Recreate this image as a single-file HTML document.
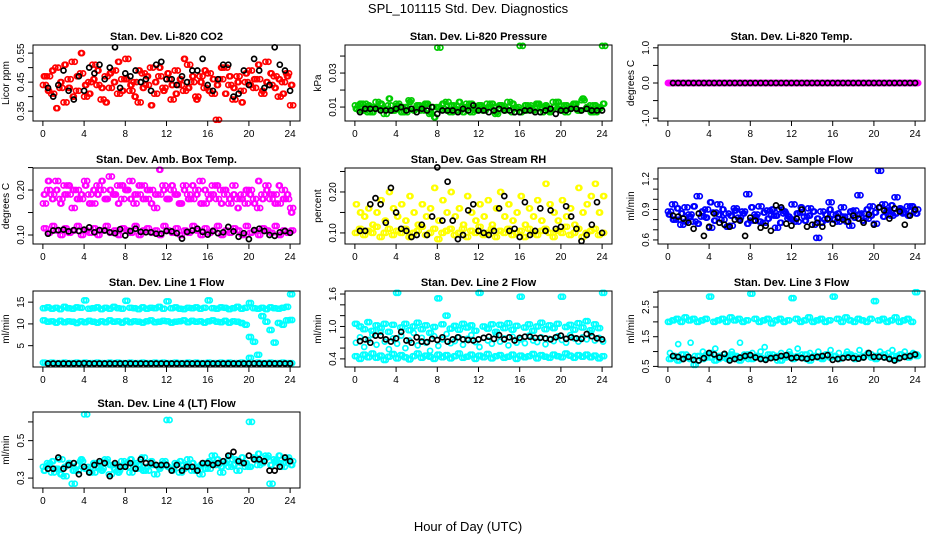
<!DOCTYPE html>
<html><head><meta charset="utf-8"><style>
body{margin:0;background:#fff}
svg{display:block;font-family:"Liberation Sans",sans-serif}
</style></head><body>
<svg id="chart" width="936" height="540" viewBox="0 0 936 540">
<text x="468" y="13" text-anchor="middle" font-size="13">SPL_101115  Std. Dev. Diagnostics</text>
<text x="468" y="531" text-anchor="middle" font-size="13">Hour of Day (UTC)</text>
</svg>
<script>
// ---- data ----
const xTicks = [0,4,8,12,16,20,24];
const co2Red1 = [0.44,0.47,0.41,0.50,0.43,0.38,0.46,0.52,0.42,0.48,0.40,0.45,0.51,0.44,0.39,0.47,0.43,0.49,0.41,0.46,0.53,0.42,0.45,0.38,0.48,0.44,0.50,0.41,0.47,0.43,0.46,0.39,0.49,0.44,0.42,0.51,0.45,0.40,0.47,0.43,0.48,0.41,0.32,0.46,0.50,0.44,0.39,0.47,0.42,0.45,0.49,0.43,0.46,0.41,0.52,0.44,0.47,0.40,0.45,0.48,0.37];
const co2Red2 = [0.47,0.42,0.49,0.36,0.45,0.51,0.43,0.40,0.47,0.55,0.44,0.41,0.46,0.49,0.43,0.38,0.48,0.45,0.52,0.42,0.46,0.44,0.40,0.49,0.43,0.47,0.37,0.45,0.50,0.42,0.48,0.44,0.41,0.46,0.53,0.43,0.47,0.39,0.45,0.49,0.42,0.46,0.44,0.50,0.41,0.47,0.43,0.45,0.38,0.48,0.44,0.46,0.51,0.42,0.45,0.48,0.43,0.46,0.41,0.47,0.44];
const co2Black = [0.43,0.40,0.44,0.49,0.42,0.39,0.47,0.42,0.50,0.48,0.51,0.46,0.50,0.57,0.43,0.48,0.47,0.49,0.45,0.46,0.42,0.51,0.52,0.46,0.46,0.44,0.47,0.45,0.49,0.49,0.53,0.44,0.42,0.46,0.51,0.51,0.40,0.41,0.49,0.44,0.53,0.49,0.43,0.44,0.57,0.51,0.49,0.42];
const presGreen1 = [0.011,0.008,0.012,0.007,0.010,0.013,0.009,0.006,0.011,0.008,0.012,0.010,0.007,0.014,0.009,0.011,0.008,0.012,0.006,0.010,0.045,0.009,0.013,0.007,0.011,0.008,0.010,0.012,0.007,0.009,0.011,0.008,0.012,0.010,0.006,0.011,0.009,0.013,0.007,0.010,0.046,0.008,0.011,0.009,0.012,0.007,0.010,0.008,0.013,0.009,0.011,0.007,0.010,0.012,0.008,0.014,0.009,0.011,0.007,0.010,0.046];
const presGreen2 = [0.009,0.012,0.008,0.011,0.007,0.010,0.012,0.009,0.015,0.008,0.011,0.007,0.010,0.013,0.008,0.011,0.009,0.012,0.007,0.004,0.010,0.012,0.008,0.011,0.009,0.013,0.007,0.010,0.012,0.008,0.011,0.009,0.010,0.012,0.007,0.011,0.008,0.010,0.012,0.009,0.007,0.011,0.010,0.008,0.012,0.009,0.011,0.007,0.010,0.013,0.008,0.011,0.009,0.012,0.008,0.015,0.010,0.007,0.011,0.009,0.012];
const presBlack = [0.007,0.009,0.009,0.009,0.008,0.008,0.008,0.009,0.010,0.008,0.009,0.007,0.009,0.008,0.010,0.006,0.008,0.008,0.008,0.007,0.009,0.008,0.011,0.008,0.008,0.007,0.008,0.009,0.008,0.008,0.007,0.007,0.008,0.008,0.007,0.007,0.008,0.009,0.006,0.008,0.008,0.009,0.009,0.008,0.009,0.008,0.008,0.008];
const tempMag = [0,0,0,0,0,0,0,0,0,0,0,0,0,0,0,0,0,0,0,0,0,0,0,0,0,0,0,0,0,0,0,0,0,0,0,0,0,0,0,0,0,0,0,0,0,0,0,0,0,0,0,0,0,0,0,0,0,0,0,0,0];
const tempBlack = [0,0,0,0,0,0,0,0,0,0,0,0,0,0,0,0,0,0,0,0,0,0,0,0,0,0,0,0,0,0,0,0,0,0,0,0,0,0,0,0,0,0,0,0,0,0,0,0];
const ambUpper1 = [0.17,0.20,0.19,0.22,0.18,0.21,0.19,0.16,0.20,0.18,0.22,0.19,0.17,0.21,0.20,0.18,0.23,0.19,0.21,0.18,0.20,0.22,0.17,0.19,0.21,0.18,0.20,0.16,0.19,0.21,0.18,0.20,0.19,0.17,0.21,0.19,0.18,0.20,0.22,0.17,0.19,0.21,0.18,0.20,0.19,0.17,0.21,0.18,0.19,0.17,0.20,0.18,0.16,0.19,0.21,0.18,0.19,0.17,0.20,0.18,0.16];
const ambUpper2 = [0.19,0.22,0.18,0.20,0.17,0.19,0.21,0.20,0.18,0.19,0.21,0.17,0.20,0.19,0.22,0.18,0.20,0.19,0.17,0.21,0.20,0.18,0.19,0.21,0.18,0.20,0.17,0.19,0.245,0.20,0.18,0.21,0.19,0.17,0.20,0.18,0.21,0.19,0.17,0.20,0.18,0.19,0.21,0.17,0.20,0.18,0.19,0.16,0.18,0.20,0.19,0.17,0.22,0.18,0.20,0.19,0.17,0.21,0.18,0.19,0.15];
const ambLower = [0.115,0.105,0.12,0.11,0.10,0.115,0.105,0.11,0.12,0.10,0.11,0.105,0.115,0.10,0.11,0.12,0.105,0.11,0.10,0.115,0.11,0.105,0.12,0.10,0.11,0.115,0.105,0.11,0.10,0.12,0.11,0.105,0.115,0.10,0.11,0.105,0.12,0.11,0.10,0.115,0.105,0.11,0.12,0.10,0.11,0.105,0.115,0.11,0.10,0.12,0.105,0.11,0.10,0.115,0.11,0.105,0.12,0.10,0.11,0.105,0.11];
const ambBlack = [0.103,0.110,0.111,0.112,0.108,0.111,0.109,0.112,0.117,0.106,0.111,0.110,0.106,0.104,0.113,0.099,0.109,0.114,0.107,0.106,0.106,0.103,0.103,0.109,0.108,0.104,0.092,0.107,0.110,0.114,0.107,0.101,0.109,0.104,0.106,0.118,0.108,0.096,0.104,0.091,0.111,0.114,0.109,0.100,0.098,0.106,0.109,0.105];
const rhLow = [0.10,0.11,0.095,0.105,0.10,0.115,0.09,0.10,0.11,0.095,0.105,0.10,0.11,0.09,0.10,0.105,0.115,0.095,0.10,0.11,0.085,0.10,0.105,0.11,0.095,0.10,0.11,0.09,0.105,0.10,0.115,0.095,0.10,0.11,0.09,0.105,0.10,0.11,0.095,0.10,0.105,0.09,0.11,0.10,0.095,0.105,0.11,0.10,0.09,0.105,0.10,0.115,0.095,0.10,0.11,0.09,0.10,0.105,0.11,0.095,0.10];
const rhHigh = [0.17,0.15,0.14,0.16,0.12,0.15,0.18,0.13,0.20,0.16,0.14,0.17,0.13,0.19,0.15,0.12,0.17,0.14,0.16,0.21,0.13,0.18,0.15,0.20,0.14,0.16,0.12,0.19,0.15,0.13,0.17,0.14,0.18,0.12,0.16,0.20,0.14,0.17,0.13,0.15,0.19,0.12,0.16,0.14,0.18,0.13,0.22,0.17,0.15,0.13,0.18,0.14,0.16,0.12,0.21,0.15,0.17,0.19,0.22,0.15,0.19];
const rhBlack = [0.105,0.105,0.17,0.185,0.17,0.125,0.21,0.15,0.11,0.105,0.09,0.095,0.12,0.095,0.14,0.26,0.13,0.225,0.13,0.085,0.095,0.155,0.17,0.105,0.10,0.095,0.105,0.16,0.19,0.105,0.11,0.09,0.175,0.095,0.105,0.16,0.105,0.155,0.11,0.115,0.165,0.14,0.11,0.08,0.095,0.12,0.175,0.10];
const flowBlue1 = [0.88,0.95,0.80,0.75,0.92,0.85,0.78,1.03,0.83,0.90,0.72,0.87,0.95,0.80,0.86,0.74,0.91,0.82,0.88,1.05,0.79,0.85,0.93,0.77,0.89,0.84,0.72,0.90,0.86,0.81,0.95,0.78,0.87,0.83,0.91,0.75,0.62,0.88,0.80,0.97,0.85,0.78,0.92,0.83,0.74,0.89,1.04,0.86,0.81,0.93,0.76,1.28,0.95,0.88,0.84,1.02,0.90,0.86,0.93,0.88,0.90];
const flowBlue2 = [0.85,0.80,0.91,0.86,0.78,0.83,0.93,0.76,0.88,0.82,0.97,0.79,0.85,0.90,0.73,0.84,0.89,0.80,0.86,0.76,0.92,0.83,0.78,0.87,0.81,0.90,0.84,0.77,0.88,0.83,0.80,0.86,0.92,0.79,0.84,0.88,0.81,0.77,0.85,0.90,0.80,0.86,0.83,0.78,0.88,0.82,0.85,0.79,0.90,0.84,0.87,0.92,0.83,0.89,0.94,0.86,0.91,0.87,0.84,0.93,0.86];
const flowBlack = [0.84,0.83,0.81,0.77,0.71,0.86,0.64,0.73,0.86,0.77,0.75,0.73,0.80,0.79,0.64,0.82,0.79,0.72,0.74,0.69,0.94,0.92,0.76,0.74,0.81,0.90,0.73,0.75,0.77,0.73,0.81,0.76,0.82,0.80,0.78,0.84,0.81,0.77,0.85,0.75,0.92,0.89,0.81,0.91,0.88,0.75,0.84,0.90];
const l1Top = [13.6,13.8,13.5,13.7,13.4,13.9,13.6,13.5,13.8,13.7,15.4,13.5,13.6,13.8,13.4,13.7,13.5,13.9,13.6,13.5,15.3,13.7,13.6,13.4,13.8,13.5,13.7,13.6,13.9,13.5,15.2,13.6,13.8,13.5,13.4,13.7,13.6,13.8,13.5,13.7,15.4,13.6,13.5,13.8,13.7,13.4,13.6,13.9,13.5,13.7,14.8,13.6,13.5,13.7,13.4,13.8,13.6,13.5,13.7,13.9,16.8];
const l1Mid = [10.8,10.5,10.6,10.3,10.7,10.4,10.6,10.5,10.2,10.6,10.4,10.7,10.5,10.3,10.6,10.4,10.8,10.5,10.6,10.3,10.7,10.4,10.6,10.5,10.3,10.6,10.8,10.4,10.5,10.7,10.6,10.3,10.5,10.6,10.8,10.4,10.7,10.5,10.6,10.3,10.6,10.8,10.5,10.4,10.7,10.3,10.6,10.5,10.2,9.8,7.0,5.9,2.9,11.8,10.5,8.6,5.7,10.2,9.8,10.8,10.9];
const l1Low = [1.1,1.0,1.1,1.0,1.0,1.1,1.0,1.0,1.1,1.0,1.1,1.0,1.0,1.1,1.0,1.0,1.1,1.0,1.1,1.0,1.0,1.1,1.0,1.0,1.1,1.0,1.0,1.1,1.0,1.1,1.0,1.0,1.1,1.0,1.0,1.1,1.0,1.1,1.0,1.0,1.1,1.0,1.0,1.1,1.0,1.1,1.0,1.0,1.1,1.0,2.2,1.0,1.1,1.0,1.0,1.1,1.0,1.0,1.1,1.0,1.0];
const l1Black = [0.9,0.9,0.9,0.9,0.9,0.9,0.9,0.95,0.9,0.9,0.9,0.9,0.9,0.9,0.9,0.95,0.9,0.9,0.9,0.9,0.9,0.9,0.9,0.9,0.9,0.9,0.9,0.9,0.9,0.9,0.9,0.9,0.9,0.9,0.9,0.9,0.9,0.9,0.9,0.9,0.9,0.9,0.9,0.9,0.9,0.9,0.9,0.9];
const l2Top = [1.05,1.00,0.95,1.08,0.92,1.02,0.97,1.05,0.90,1.03,1.62,0.98,1.05,0.93,1.00,1.07,0.95,1.02,0.88,0.99,1.52,1.04,1.20,0.96,1.01,0.94,1.05,0.98,1.02,0.92,1.62,1.00,0.96,1.04,0.90,1.03,0.97,1.06,0.94,1.01,1.55,0.98,1.04,0.92,1.00,1.07,0.95,1.02,0.97,1.05,1.55,0.99,1.03,0.94,1.06,0.98,1.10,0.93,1.04,0.97,1.62];
const l2Low = [0.45,0.40,0.48,0.43,0.50,0.42,0.46,0.38,0.44,0.49,0.41,0.47,0.43,0.39,0.45,0.50,0.42,0.46,0.44,0.40,0.48,0.43,0.47,0.41,0.45,0.50,0.42,0.44,0.48,0.40,0.46,0.43,0.49,0.41,0.45,0.47,0.42,0.44,0.48,0.40,0.46,0.43,0.45,0.49,0.41,0.47,0.44,0.42,0.48,0.45,0.43,0.50,0.46,0.42,0.47,0.44,0.48,0.43,0.46,0.41,0.45];
const l2Mid = [0.70,0.80,0.62,0.75,0.85,0.66,0.90,0.72,0.58,0.78,0.68,0.83,0.60,0.74,0.88,0.65,0.79,0.70,0.55,0.82,0.64,0.76,0.86,0.69,0.73,0.80,0.66,0.77,0.84,0.71,0.62,0.79,0.74,0.68,0.85,0.72,0.78,0.65,0.81,0.70,0.76,0.69,0.83,0.74,0.71,0.80,0.67,0.77,0.73,0.82,0.75,0.70,0.84,0.78,0.72,0.80,0.76,0.88,0.74,0.79,0.72];
const l2Black = [0.73,0.76,0.70,0.83,0.83,0.76,0.72,0.78,0.90,0.74,0.70,0.80,0.72,0.71,0.77,0.75,0.80,0.72,0.76,0.80,0.76,0.75,0.74,0.76,0.79,0.81,0.77,0.84,0.76,0.80,0.74,0.79,0.81,0.81,0.79,0.79,0.78,0.76,0.80,0.83,0.77,0.80,0.78,0.77,0.86,0.82,0.78,0.76];
const l3Top = [2.0,2.05,2.1,2.0,2.15,2.05,2.1,2.0,2.05,2.1,2.85,2.0,2.05,2.1,2.0,2.15,2.05,2.1,2.0,2.05,2.95,2.1,2.0,2.05,2.1,1.95,2.05,2.1,2.0,2.05,2.8,2.1,2.0,2.05,2.15,2.0,2.05,2.1,2.0,2.05,2.85,2.1,2.0,2.15,2.05,2.0,2.1,2.05,2.0,2.1,2.7,2.05,2.1,2.0,2.05,2.15,2.0,2.05,2.1,2.0,3.0];
const l3Low1 = [0.95,0.80,1.25,0.75,0.90,1.30,0.85,0.70,1.00,0.80,0.95,1.10,0.75,0.90,0.85,1.00,0.80,1.30,0.90,0.75,0.95,0.85,1.00,1.15,0.80,0.90,0.70,0.95,0.85,1.00,0.80,1.10,0.90,0.75,0.95,0.85,1.00,0.80,0.90,1.05,0.85,0.95,0.80,1.00,0.90,0.85,1.05,0.80,0.95,0.90,0.85,1.00,0.80,0.95,1.05,0.85,0.90,1.00,0.85,0.95,0.90];
const l3Low2 = [0.75,0.85,0.70,0.90,0.80,0.75,0.55,0.85,0.75,0.90,0.80,0.70,0.85,0.80,0.75,0.90,0.85,0.70,0.80,0.90,0.75,0.85,0.80,0.75,0.90,0.80,0.85,0.70,0.80,0.90,0.75,0.85,0.80,0.90,0.70,0.85,0.80,0.75,0.90,0.80,0.85,0.75,0.80,0.90,0.85,0.75,0.80,0.85,0.90,0.80,0.75,0.85,0.90,0.80,0.85,0.75,0.90,0.85,0.80,0.90,0.85];
const l3Black = [0.85,0.82,0.75,0.82,0.72,0.70,0.78,0.95,0.90,0.80,0.92,0.70,0.75,0.80,0.85,0.88,0.80,0.75,0.72,0.78,0.80,0.85,0.88,0.78,0.80,0.78,0.76,0.80,0.82,0.85,0.88,0.72,0.75,0.78,0.80,0.78,0.76,0.80,0.95,0.82,0.82,0.80,0.75,0.70,0.78,0.82,0.85,0.90];
const l4Cyan1 = [0.36,0.38,0.33,0.35,0.40,0.31,0.37,0.27,0.34,0.39,0.64,0.36,0.33,0.38,0.35,0.40,0.32,0.37,0.34,0.39,0.36,0.33,0.38,0.35,0.41,0.34,0.37,0.32,0.36,0.39,0.61,0.35,0.38,0.33,0.37,0.40,0.34,0.36,0.32,0.38,0.35,0.42,0.37,0.33,0.39,0.36,0.40,0.34,0.38,0.36,0.60,0.41,0.37,0.39,0.42,0.27,0.40,0.38,0.36,0.41,0.39];
const l4Cyan2 = [0.34,0.37,0.39,0.35,0.32,0.36,0.38,0.34,0.37,0.40,0.35,0.33,0.38,0.36,0.34,0.39,0.37,0.35,0.33,0.36,0.38,0.40,0.35,0.37,0.34,0.36,0.39,0.37,0.35,0.38,0.36,0.34,0.37,0.39,0.35,0.36,0.38,0.34,0.37,0.35,0.39,0.38,0.40,0.36,0.38,0.42,0.37,0.39,0.41,0.38,0.36,0.40,0.43,0.38,0.41,0.37,0.39,0.42,0.38,0.40,0.37];
const l4Black = [0.35,0.35,0.41,0.35,0.37,0.38,0.32,0.36,0.33,0.37,0.39,0.38,0.31,0.38,0.36,0.36,0.38,0.35,0.40,0.38,0.38,0.37,0.37,0.37,0.34,0.37,0.34,0.36,0.36,0.34,0.38,0.38,0.37,0.38,0.39,0.42,0.44,0.39,0.38,0.42,0.40,0.40,0.39,0.34,0.34,0.36,0.41,0.39];

// ---- layout ----
const NS = 'http://www.w3.org/2000/svg';
const svg = document.getElementById('chart');
const RED='#ff0000', GRN='#00cc00', MAG='#ff00ff', YEL='#ffff00', BLU='#0000ff', CYN='#00ffff', BLK='#000000';
const panels = [
 {name:'co2', title:'Stan. Dev. Li-820 CO2', yt:'Licor ppm', L:33, T:45, ymin:0.316, ymax:0.578, ticks:[0.35,0.40,0.45,0.50,0.55], labels:['0.35','0.45','0.55'],
  series:[[co2Red1,0,RED],[co2Red2,0.2,RED],[co2Red2,0.1,RED],[co2Red1,0.3,RED],[co2Black,0.5,BLK]]},
 {name:'pressure', title:'Stan. Dev. Li-820 Pressure', yt:'kPa', L:345, T:45, ymin:0.0018, ymax:0.0465, ticks:[0.01,0.02,0.03,0.04], labels:['0.01','0.03'],
  series:[[presGreen1,0,GRN],[presGreen2,0.2,GRN],[presGreen2,0.1,GRN],[presGreen1,0.3,GRN],[presBlack,0.5,BLK]]},
 {name:'temp', title:'Stan. Dev. Li-820 Temp.', yt:'degrees C', L:658, T:45, ymin:-1.08, ymax:1.08, ticks:[-1,-0.5,0,0.5,1], labels:['-1.0','0.0','1.0'],
  series:[[tempMag,0,MAG],[tempMag,0.1,MAG],[tempMag,0.2,MAG],[tempMag,0.3,MAG],[tempBlack,0.5,BLK]]},
 {name:'amb-box-temp', title:'Stan. Dev. Amb. Box Temp.', yt:'degrees C', L:33, T:168, ymin:0.08, ymax:0.249, ticks:[0.10,0.15,0.20,0.25], labels:['0.10','0.20'],
  series:[[ambUpper1,0,MAG],[ambUpper2,0.2,MAG],[ambUpper2,0.1,MAG],[ambUpper1,0.3,MAG],[ambLower,0.1,MAG],[ambLower,0.3,MAG],[ambBlack,0.5,BLK]]},
 {name:'gas-stream-rh', title:'Stan. Dev. Gas Stream RH', yt:'percent', L:345, T:168, ymin:0.073, ymax:0.2585, ticks:[0.10,0.15,0.20,0.25], labels:['0.10','0.20'],
  series:[[rhLow,0,YEL],[rhLow,0.2,YEL],[rhHigh,0.2,YEL],[rhHigh,0.1,YEL],[rhBlack,0.5,BLK]]},
 {name:'sample-flow', title:'Stan. Dev. Sample Flow', yt:'ml/min', L:658, T:168, ymin:0.56, ymax:1.308, ticks:[0.6,0.7,0.8,0.9,1.0,1.1,1.2], labels:['0.6','0.9','1.2'],
  series:[[flowBlue1,0,BLU],[flowBlue2,0.2,BLU],[flowBlue2,0.1,BLU],[flowBlue1,0.3,BLU],[flowBlack,0.5,BLK]]},
 {name:'line1-flow', title:'Stan. Dev. Line 1 Flow', yt:'ml/min', L:33, T:291, ymin:0.1, ymax:17.56, ticks:[5,10,15], labels:['5','10','15'],
  series:[[l1Top,0,CYN],[l1Top,0.2,CYN],[l1Mid,0.2,CYN],[l1Mid,0,CYN],[l1Low,0,CYN],[l1Low,0.2,CYN],[l1Black,0.5,BLK]]},
 {name:'line2-flow', title:'Stan. Dev. Line 2 Flow', yt:'ml/min', L:345, T:291, ymin:0.25, ymax:1.656, ticks:[0.4,0.6,0.8,1.0,1.2,1.4,1.6], labels:['0.4','1.0','1.6'],
  series:[[l2Top,0,CYN],[l2Top,0.2,CYN],[l2Low,0.2,CYN],[l2Low,0,CYN],[l2Mid,0.1,CYN],[l2Black,0.5,BLK]]},
 {name:'line3-flow', title:'Stan. Dev. Line 3 Flow', yt:'ml/min', L:658, T:291, ymin:0.48, ymax:3.04, ticks:[0.5,1.0,1.5,2.0,2.5,3.0], labels:['0.5','1.5','2.5'],
  series:[[l3Top,0,CYN],[l3Top,0.2,CYN],[l3Low1,0.2,CYN],[l3Low2,0.1,CYN],[l3Low2,0.3,CYN],[l3Black,0.5,BLK]]},
 {name:'line4-flow', title:'Stan. Dev. Line 4 (LT) Flow', yt:'ml/min', L:33, T:412, ymin:0.247, ymax:0.653, ticks:[0.3,0.4,0.5,0.6], labels:['0.3','0.5'],
  series:[[l4Cyan1,0,CYN],[l4Cyan2,0.2,CYN],[l4Cyan2,0.1,CYN],[l4Cyan1,0.3,CYN],[l4Black,0.5,BLK]]}
];
const W=267, H=76, XMIN=-0.96, XMAX=24.96;

function mk(tag, attrs, parent){
  const e=document.createElementNS(NS,tag);
  for(const k in attrs) e.setAttribute(k,attrs[k]);
  parent.appendChild(e); return e;
}
panels.forEach(p=>{
  const g=mk('g',{},svg);
  
  
  const xs=v=>p.L+(v-XMIN)/(XMAX-XMIN)*W;
  const ys=v=>p.T+H-(v-p.ymin)/(p.ymax-p.ymin)*H;
  const t=mk('text',{x:p.L+W/2,y:p.T-5,'text-anchor':'middle','font-size':11,'font-weight':'bold'},g);
  t.textContent=p.title;
  
  
  const pts=mk('g',{fill:'none','stroke-width':1.7},g);
  
  
  p.series.forEach(([vals,t0,col])=>{
    const step = vals.length>50 ? 0.4 : 0.5;
    vals.forEach((v,i)=>{
      const hr = t0 + i*step;
      const c=mk('circle',{cx:xs(hr).toFixed(1),cy:ys(v).toFixed(1),r:2.5,stroke:col},pts);
      
      
    });
  });
  const box=mk('rect',{x:p.L,y:p.T,width:W,height:H,fill:'none',stroke:'#000','stroke-width':1},g);
  
  
  const xa=mk('g',{stroke:'#000','stroke-width':1},g);
  
  
  mk('line',{x1:xs(xTicks[0]),x2:xs(xTicks[xTicks.length-1]),y1:p.T+H,y2:p.T+H},xa);
  xTicks.forEach(v=>{
    mk('line',{x1:xs(v),x2:xs(v),y1:p.T+H,y2:p.T+H+5},xa);
    const l=mk('text',{x:xs(v),y:p.T+H+16,'text-anchor':'middle','font-size':10,stroke:'none'},xa);
    l.textContent=v;
    
    
  });
  const ya=mk('g',{stroke:'#000','stroke-width':1},g);
  
  
  mk('line',{x1:p.L,x2:p.L,y1:ys(p.ticks[0]),y2:ys(p.ticks[p.ticks.length-1])},ya);
  p.ticks.forEach(v=>mk('line',{x1:p.L-5,x2:p.L,y1:ys(v),y2:ys(v)},ya));
  p.labels.forEach(s=>{
    const y=ys(parseFloat(s)), x=p.L-9;
    const l=mk('text',{x:x,y:y,'text-anchor':'middle','font-size':10,stroke:'none',transform:`rotate(-90 ${x} ${y})`},ya);
    l.textContent=s;
    
    
  });
  const yx=p.L-24, yy=p.T+H/2;
  const yt=mk('text',{x:yx,y:yy,'text-anchor':'middle','font-size':10,transform:`rotate(-90 ${yx} ${yy})`},g);
  yt.textContent=p.yt;
  
  
});
</script>
</body></html>
